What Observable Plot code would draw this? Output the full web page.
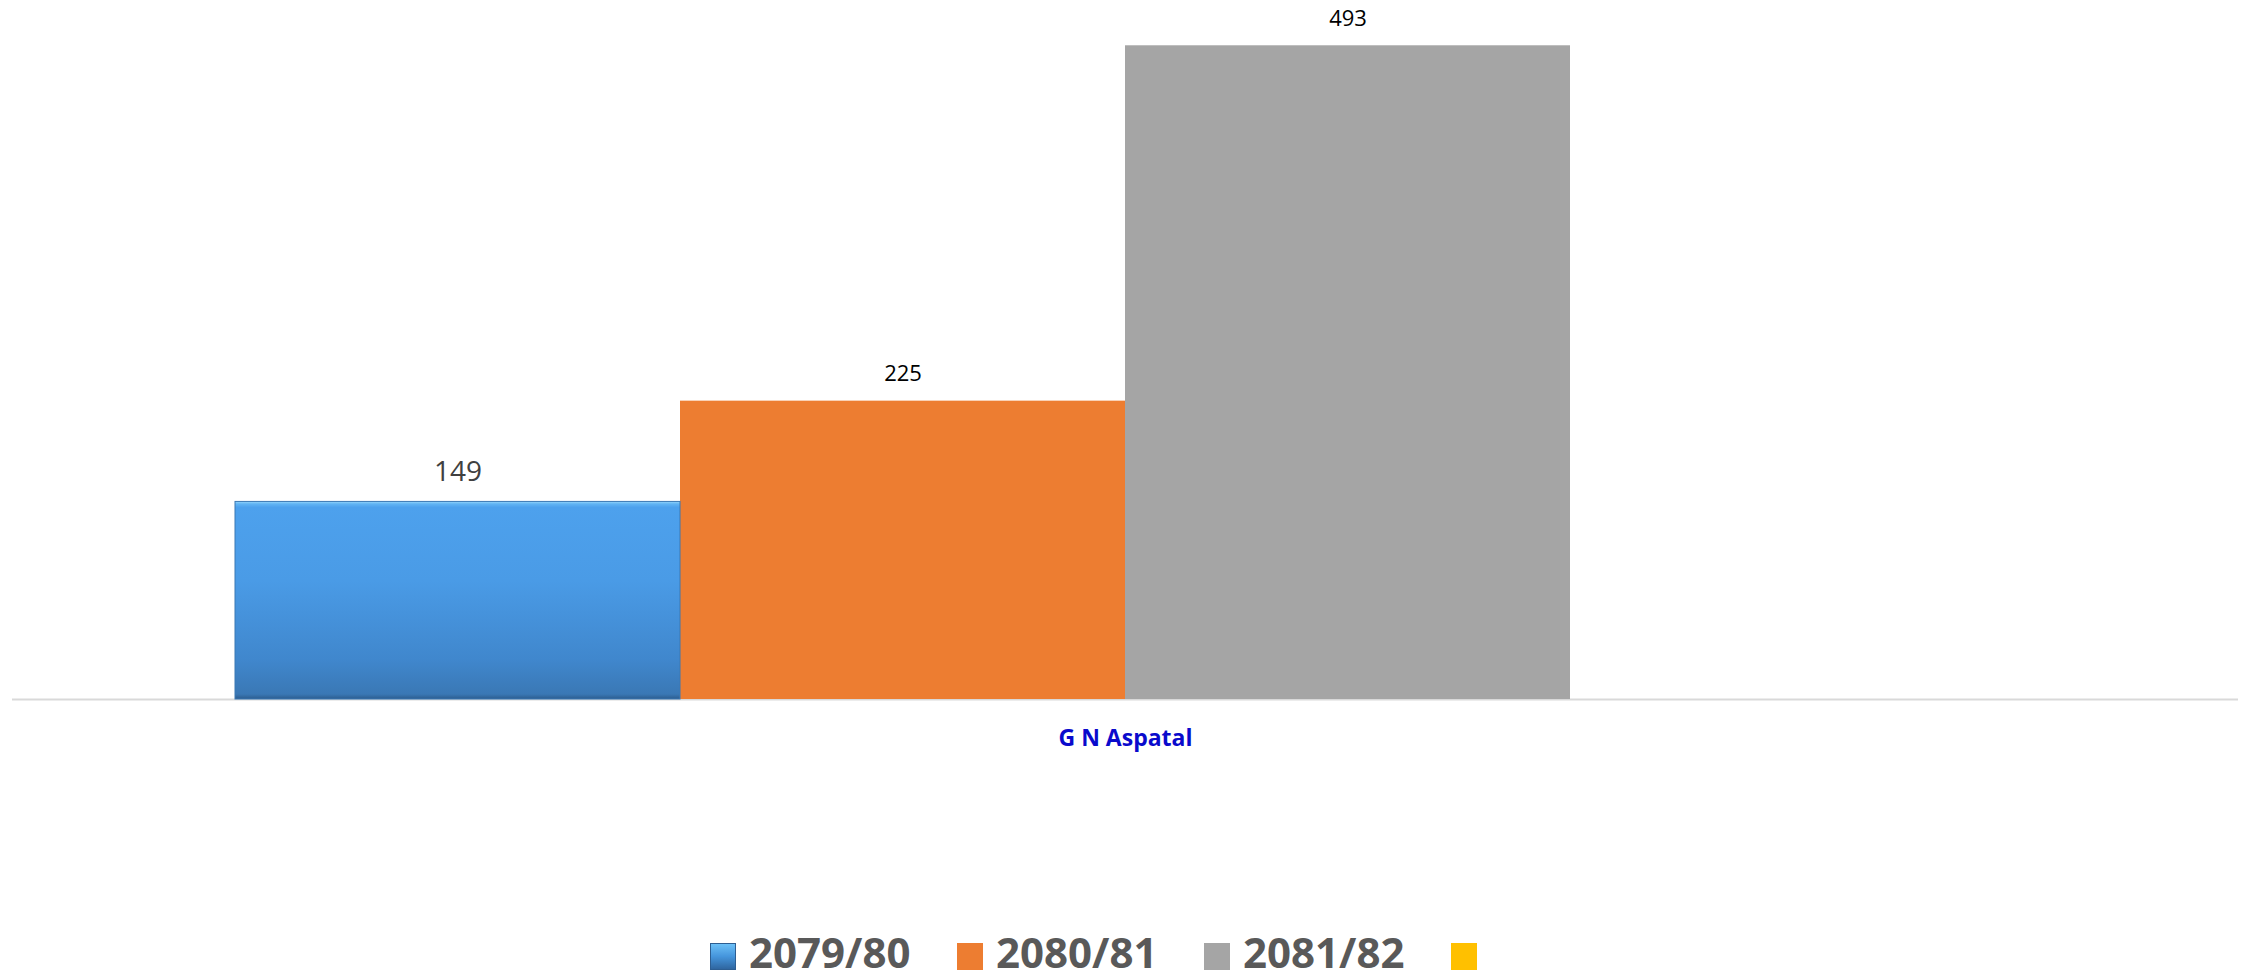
<!DOCTYPE html>
<html><head><meta charset="utf-8">
<script src="https://cdn.jsdelivr.net/npm/d3@7"></script>
<script src="https://cdn.jsdelivr.net/npm/@observablehq/plot@0.6"></script>
<style>
body{margin:0;background:#fff;font-family:"Open Sans",sans-serif;width:2252px;}
#legend{display:flex;align-items:center;height:27px;margin-top:43px;padding-left:710px;}
.item{display:flex;align-items:center;width:247px;flex:none;}
.sw{width:26px;height:27px;flex:none;box-sizing:border-box;}
.lab{margin-left:13px;font-size:42px;font-weight:700;color:#595959;line-height:27px;position:relative;top:-5px;white-space:nowrap;}
</style></head><body><div id="chart"></div><div id="legend"></div>
<script>
const categories = ["G N Aspatal"];
const seriesNames = ["2079/80", "2080/81", "2081/82", ""];
const values = [149, 225, 493, null];
const seriesColors = ["url(#blueBevel)", "#ED7D31", "#A5A5A5", "#FFC000"];

const data = seriesNames.map((s, i) => ({category: categories[0], series: s, value: values[i]}));
const withValue = data.filter(d => d.value != null);
const firstSeries = withValue.filter(d => d.series === seriesNames[0]);
const otherSeries = withValue.filter(d => d.series !== seriesNames[0]);

const chart = Plot.plot({
  width: 2252, height: 900,
  marginTop: 36, marginBottom: 201, marginLeft: 12, marginRight: 14,
  style: {fontFamily: "'Open Sans', sans-serif", background: "#fff"},
  fx: {domain: categories, padding: 0, label: null},
  x: {domain: seriesNames, paddingInner: 0, paddingOuter: 0.5, axis: null},
  y: {domain: [0, 500], axis: null},
  color: {domain: seriesNames, range: seriesColors},
  marks: [
    Plot.ruleY([0], {stroke: "#d9d9d9", strokeWidth: 2}),
    Plot.barY(withValue, {fx: "category", x: "series", y: "value", fill: "series"}),
    Plot.barY(firstSeries, {fx: "category", x: "series", y: "value", fill: "none", stroke: "#3b78b4", strokeWidth: 1}),
    Plot.text(firstSeries, {fx: "category", x: "series", y: "value", text: d => String(d.value),
      lineAnchor: "bottom", dy: -21, fontSize: 28, fill: "#404040"}),
    Plot.text(otherSeries, {fx: "category", x: "series", y: "value", text: d => String(d.value),
      lineAnchor: "bottom", dy: -20, fontSize: 22, fill: "#000"}),
    Plot.axisFx({anchor: "bottom", tickSize: 0, tickPadding: 30, fontSize: 23, fontWeight: "bold", fill: "#0a0acc", label: null})
  ]
});

const defs = d3.select(chart).insert("defs", ":first-child");
const grad = defs.append("linearGradient").attr("id", "blueBevel")
  .attr("x1", 0).attr("y1", 0).attr("x2", 0).attr("y2", 1);
[[0, "#9ad8fc"], [0.012, "#62b5f4"], [0.03, "#4da1ed"], [0.4, "#4a9be6"], [0.8, "#4087cd"], [0.975, "#3a78b5"], [1, "#2c5c8e"]]
  .forEach(([o, c]) => grad.append("stop").attr("offset", o).attr("stop-color", c));

document.getElementById("chart").appendChild(chart);

const legend = d3.select("#legend");
seriesNames.forEach((s, i) => {
  const item = legend.append("div").attr("class", "item");
  const c = seriesColors[i];
  const sw = item.append("div").attr("class", "sw");
  if (c.startsWith("url")) {
    sw.style("background", "linear-gradient(#6cc0f7, #4595dc 50%, #2f66a0)").style("border", "1px solid #2d5e92");
  } else {
    sw.style("background", c);
  }
  if (s) item.append("span").attr("class", "lab").text(s);
});
</script></body></html>
